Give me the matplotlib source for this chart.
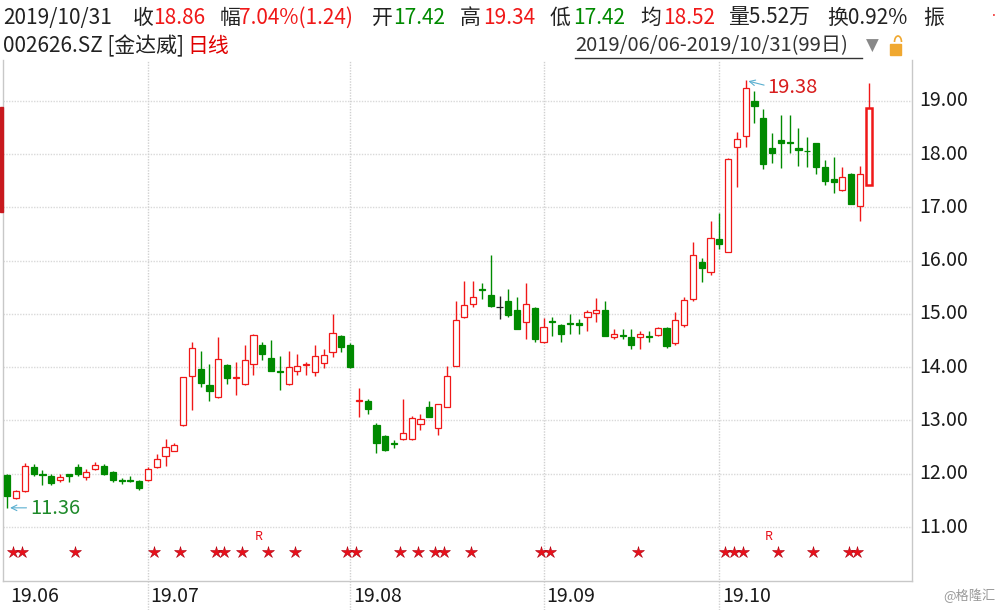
import matplotlib
matplotlib.use('Agg')
import matplotlib.pyplot as plt
from matplotlib.patches import Rectangle, Arc

plt.rcParams['font.family'] = ['Noto Sans CJK SC', 'DejaVu Sans']

# daily bars 2019/06/06 - 2019/10/31 (99 trading days)
opens = [11.97, 11.54, 11.68, 12.13, 11.99, 11.96, 11.88, 11.99, 12.13, 11.93,
         12.08, 12.15, 12.03, 11.89, 11.89, 11.87, 11.89, 12.12, 12.33, 12.43,
         12.91, 13.83, 13.96, 13.66, 13.44, 14.04, 13.79, 13.68, 14.05, 14.42,
         14.18, 13.93, 13.68, 13.92, 14.04, 13.91, 14.08, 14.28, 14.58, 14.42,
         13.36, 13.36, 12.91, 12.70, 12.57, 12.65, 12.65, 12.93, 13.26, 12.86,
         13.26, 14.03, 14.94, 15.18, 15.47, 15.35, 15.12, 15.24, 15.07, 14.85,
         15.11, 14.47, 14.86, 14.80, 14.83, 14.82, 14.94, 15.01, 15.07, 14.57,
         14.60, 14.56, 14.56, 14.59, 14.60, 14.74, 14.45, 14.79, 15.27, 15.97,
         15.79, 16.40, 16.17, 18.13, 18.34, 19.00, 18.67, 18.11, 18.26, 18.23,
         18.11, 18.06, 18.20, 17.76, 17.53, 17.32, 17.63, 17.02, 17.42]
highs = [12.00, 11.70, 12.21, 12.18, 12.07, 12.00, 12.00, 12.00, 12.19, 12.08,
         12.22, 12.19, 12.06, 11.92, 11.95, 11.88, 12.13, 12.37, 12.66, 12.58,
         13.82, 14.47, 14.31, 14.05, 14.57, 14.05, 14.09, 14.42, 14.62, 14.47,
         14.51, 14.21, 14.30, 14.25, 14.10, 14.42, 14.35, 15.00, 14.61, 14.45,
         13.60, 13.40, 12.95, 12.73, 12.64, 13.40, 13.08, 13.12, 13.36, 13.31,
         14.03, 15.24, 15.61, 15.61, 15.57, 16.10, 15.34, 15.46, 15.31, 15.57,
         15.12, 14.92, 14.95, 14.81, 15.00, 14.91, 15.07, 15.29, 15.24, 14.71,
         14.71, 14.71, 14.67, 14.68, 14.76, 14.75, 15.03, 15.31, 16.35, 16.05,
         16.75, 16.90, 17.92, 18.42, 19.38, 19.19, 18.84, 18.40, 18.74, 18.74,
         18.49, 18.31, 18.21, 17.89, 17.94, 17.76, 17.64, 17.77, 19.34]
lows = [11.36, 11.52, 11.65, 11.96, 11.78, 11.79, 11.84, 11.84, 11.96, 11.88,
        12.07, 11.98, 11.84, 11.80, 11.85, 11.69, 11.86, 12.10, 12.14, 12.42,
        12.90, 13.20, 13.63, 13.37, 13.43, 13.68, 13.47, 13.67, 13.86, 14.13,
        13.92, 13.58, 13.67, 13.86, 13.86, 13.84, 13.98, 14.19, 14.28, 13.99,
        13.07, 13.13, 12.38, 12.43, 12.49, 12.64, 12.64, 12.83, 13.06, 12.73,
        13.25, 14.02, 14.93, 15.12, 15.28, 15.12, 14.91, 14.95, 14.71, 14.53,
        14.48, 14.46, 14.59, 14.48, 14.62, 14.62, 14.68, 14.85, 14.58, 14.52,
        14.52, 14.34, 14.34, 14.48, 14.59, 14.36, 14.42, 14.76, 15.25, 15.60,
        15.73, 16.21, 16.16, 17.39, 18.14, 18.58, 17.71, 17.84, 17.73, 18.01,
        17.78, 17.75, 17.62, 17.41, 17.27, 17.31, 17.06, 16.74, 17.42]
closes = [11.59, 11.68, 12.14, 11.99, 11.97, 11.82, 11.94, 11.96, 11.99, 12.03,
          12.17, 12.00, 11.88, 11.87, 11.87, 11.73, 12.09, 12.27, 12.50, 12.54,
          13.81, 14.36, 13.71, 13.56, 14.15, 13.80, 13.81, 14.14, 14.60, 14.25,
          13.93, 13.91, 14.00, 14.03, 14.06, 14.21, 14.23, 14.65, 14.37, 14.00,
          13.38, 13.21, 12.58, 12.45, 12.55, 12.77, 13.05, 13.02, 13.07, 13.30,
          13.84, 14.88, 15.16, 15.32, 15.45, 15.15, 15.12, 14.97, 14.72, 15.18,
          14.53, 14.76, 14.84, 14.63, 14.81, 14.80, 15.03, 15.07, 14.59, 14.62,
          14.58, 14.42, 14.63, 14.57, 14.73, 14.40, 14.88, 15.26, 16.10, 15.87,
          16.42, 16.32, 17.90, 18.28, 19.23, 18.90, 17.81, 18.02, 18.21, 18.21,
          18.07, 18.05, 17.76, 17.50, 17.48, 17.56, 17.07, 17.62, 18.86]

month_starts = [0, 16, 39, 61, 81]
month_labels = ['19.06', '19.07', '19.08', '19.09', '19.10']
price_ticks = [11, 12, 13, 14, 15, 16, 17, 18, 19]
star_days = [0, 1, 7, 16, 19, 23, 24, 26, 29, 32, 38, 39, 44, 46, 48, 49, 52,
             60, 61, 71, 81, 82, 83, 87, 91, 95, 96]
r_days = [28, 86]

RED = '#F01818'
GREEN = '#008A00'

W, H = 1000, 610
fig = plt.figure(figsize=(W / 100, H / 100), dpi=100)


def fx(x):
    return x / W


def fy(y):
    return 1 - y / H


ax = fig.add_axes([fx(3), fy(581), fx(912) - fx(3), fy(60) - fy(581)])
ax.set_xlim(-0.49, 102.92)
ax.set_ylim(9.987, 19.764)
ax.set_facecolor('white')
ax.spines['top'].set_visible(False)
for s in ['left', 'right', 'bottom']:
    ax.spines[s].set_color('#C8C8C8')
    ax.spines[s].set_linewidth(1)
ax.set_xticks([])
ax.set_yticks([])

# grid
for p in price_ticks:
    ax.axhline(p, color='#D9D9D9', lw=1, ls=(0, (1, 1)), zorder=0)
for m in month_starts[1:]:
    ax.vlines(m, 9.44, 19.764, color='#D0D0D0', lw=1, ls=(0, (1, 1)),
              zorder=0, clip_on=False)

# candles
idx = list(range(len(opens)))
wick_c, face_c, edge_c, bottoms, heights = [], [], [], [], []
for o, c in zip(opens, closes):
    if c > o:
        col, face = RED, 'white'
    elif c < o:
        col, face = GREEN, GREEN
    else:
        col, face = '#222222', '#222222'
    wick_c.append(col)
    face_c.append(face)
    edge_c.append(col)
    bottoms.append(min(o, c))
    heights.append(max(abs(c - o), 0.004))

ax.vlines(idx, lows, highs, colors=wick_c, lw=1, zorder=2)
lws = [0.9] * (len(idx) - 1) + [1.8]
ax.bar(idx, heights, bottom=bottoms, width=0.7, color=face_c,
       edgecolor=edge_c, linewidth=lws, zorder=3)

# max / min labels
hi_i = highs.index(max(highs))
lo_i = lows.index(min(lows))
ax.annotate('', xy=(hi_i, highs[hi_i]), xytext=(hi_i + 2.4, highs[hi_i] - 0.1),
            arrowprops=dict(arrowstyle='->', color='#5AAFD0', lw=0.8), zorder=5)
ax.text(hi_i + 2.5, highs[hi_i] - 0.14, f'{highs[hi_i]:.2f}', color='#D81E1E',
        fontsize=14.5, va='center', ha='left')
ax.annotate('', xy=(lo_i, lows[lo_i]), xytext=(lo_i + 2.5, lows[lo_i]),
            arrowprops=dict(arrowstyle='->', color='#5AAFD0', lw=0.8), zorder=5)
ax.text(lo_i + 2.6, lows[lo_i] - 0.02, f'{lows[lo_i]:.2f}', color='#1E8A2A',
        fontsize=14.5, va='center', ha='left')

# signal stars
ax.plot([d + 0.7 for d in star_days], [10.54] * len(star_days), ls='none',
        marker='*', ms=9, color='#E8101A', mec='#B00010', mew=0.4, zorder=4)
for d in r_days:
    ax.text(d + 0.6, 10.82, 'R', color='#E8101A', fontsize=9, ha='center',
            va='center')

# axis labels
for p in price_ticks:
    ax.text(103.7, p, f'{p:.2f}', fontsize=14, color='#1A1A1A', va='center',
            ha='left', clip_on=False)
for m, lab in zip(month_starts, month_labels):
    ax.text(m + 0.3, 9.705, lab, fontsize=14, color='#1A1A1A', va='center',
            ha='left', clip_on=False)

# left red marker
fig.patches.append(Rectangle((0, fy(212)), fx(3), fy(107) - fy(212),
                             transform=fig.transFigure, color='#C8191E'))

# header row 1
y1 = fy(18)
hdr = [(3, '2019/10/31', '#222222'), (133, '收', '#222222'),
       (153, '18.86', RED), (220, '幅', '#222222'),
       (239, '7.04%(1.24)', RED), (372, '开', '#222222'),
       (393, '17.42', GREEN), (460, '高', '#222222'), (483, '19.34', RED),
       (550, '低', '#222222'), (573, '17.42', GREEN), (640, '均', '#222222'),
       (663, '18.52', RED), (728, '量5.52万', '#222222'),
       (827, '换0.92%', '#222222'), (923, '振', '#222222')]
for x, t, c in hdr:
    fig.text(fx(x), y1, t, color=c, fontsize=15, va='center', ha='left')
fig.text(fx(992), fy(12), '.', color=RED, fontsize=10, va='center')

# header row 2
y2 = fy(46)
fig.text(fx(3), y2, '002626.SZ [金达威]', color='#222222', fontsize=15,
         va='center', ha='left')
fig.text(fx(187), y2, '日线', color='#E00000', fontsize=15, va='center',
         ha='left')
fig.text(fx(575), y2, '2019/06/06-2019/10/31(99日)', color='#333333',
         fontsize=14.5, va='center', ha='left')
fig.add_artist(plt.Line2D([fx(575), fx(862)], [fy(58), fy(58)], color='#333333',
                          lw=1))
fig.text(fx(866), y2, '▼', color='#888888', fontsize=12, va='center', ha='left',
         family=['DejaVu Sans'])
fig.patches.append(Rectangle((fx(890), fy(55)), fx(11), fy(44) - fy(55),
                             transform=fig.transFigure, color='#F0A830'))
fig.add_artist(Arc((fx(898), fy(42)), fx(7), fy(36) - fy(48), theta1=0,
                   theta2=180, transform=fig.transFigure, color='#F0A830',
                   lw=1.2))

fig.text(fx(996), fy(596), '@格隆汇', color='#9A9A9A', fontsize=9.5,
         va='center', ha='right')

fig.savefig('out.png', dpi=100)
